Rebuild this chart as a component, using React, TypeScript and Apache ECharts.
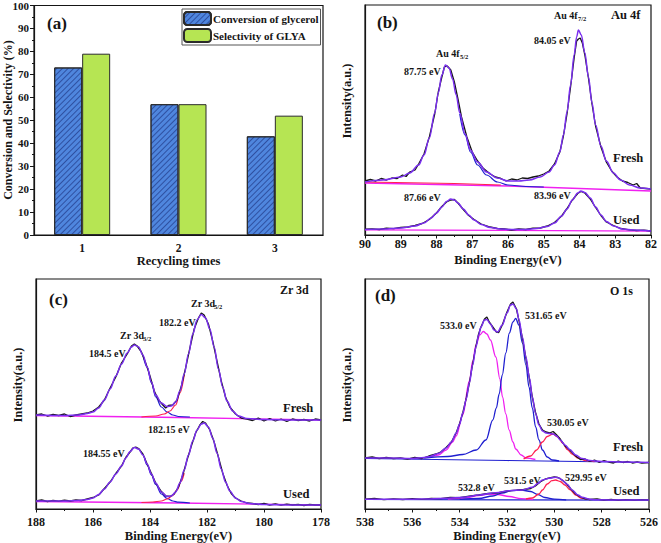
import React, { useEffect, useRef } from 'react';
import * as echarts from 'echarts';

// ---------- (a) recycling ----------
const recyclingTimes = ['1', '2', '3'];
const conversionGlycerol = [73, 57, 43];
const selectivityGLYA = [79, 57, 52];

// ---------- (b) Au 4f : [binding energy, intensity] ----------
const au4fFreshRaw = [
  [90, 54], [89.85, 55.5], [89.7, 54], [89.55, 56.5], [89.4, 55], [89.25, 57], [89.1, 56.5], [88.95, 60], [88.85, 58.5],
  [88.75, 63], [88.6, 65], [88.5, 71], [88.35, 81], [88.2, 98], [88.05, 121], [87.95, 143], [87.85, 158], [87.78, 168],
  [87.7, 169], [87.6, 165], [87.5, 153], [87.4, 136], [87.3, 118], [87.15, 98], [87.0, 83], [86.85, 74], [86.7, 67],
  [86.5, 61], [86.35, 58], [86.2, 56.5], [86.05, 54], [85.9, 56], [85.75, 55], [85.6, 57], [85.45, 56.5], [85.3, 58],
  [85.15, 59], [85.0, 61], [84.85, 64], [84.7, 71], [84.55, 83], [84.45, 99], [84.35, 121], [84.25, 148], [84.15, 177],
  [84.08, 194], [84.03, 196], [83.98, 197], [83.92, 192], [83.85, 180], [83.75, 157], [83.65, 131], [83.55, 109],
  [83.4, 88], [83.25, 73], [83.1, 64], [82.95, 58], [82.8, 54], [82.65, 52.5], [82.5, 50], [82.4, 51.5], [82.3, 47],
  [82.15, 46.5], [82.0, 46],
];
const au4fFreshFit = [
  [90, 53], [89.5, 55], [89.0, 58], [88.75, 62], [88.5, 70], [88.35, 80], [88.2, 97], [88.05, 122], [87.95, 142],
  [87.85, 160], [87.75, 170], [87.65, 167], [87.55, 156], [87.45, 140], [87.35, 122], [87.2, 101], [87.05, 85],
  [86.85, 73], [86.6, 63], [86.3, 57], [86.0, 54], [85.7, 54], [85.4, 55], [85.1, 58], [84.85, 63], [84.7, 70],
  [84.55, 83], [84.45, 100], [84.35, 123], [84.25, 150], [84.15, 180], [84.08, 198], [84.03, 205], [83.95, 200],
  [83.85, 182], [83.75, 158], [83.65, 132], [83.55, 110], [83.4, 89], [83.25, 74], [83.05, 62], [82.85, 55],
  [82.6, 50], [82.3, 47], [82.0, 46],
];
const au4fFresh52Tail = [
  [87.35, 121], [87.2, 100], [87.05, 83], [86.85, 70], [86.6, 60], [86.3, 53], [86.0, 50], [85.5, 48.5], [85.0, 48],
];
const au4fFreshBgA = [[90, 52], [86, 49], [82, 44]];
const au4fFreshBgB = [[90, 53], [87.5, 51.5], [86.2, 50]];
const au4fUsedRaw = [
  [90, 5.8], [89.8, 6.2], [89.6, 5.5], [89.4, 6.8], [89.2, 6.3], [89.0, 7.5], [88.8, 8], [88.6, 9.5], [88.4, 11.5],
  [88.2, 15.5], [88.0, 22], [87.85, 28.5], [87.72, 33], [87.6, 35], [87.5, 35.5], [87.4, 32], [87.25, 25.5],
  [87.1, 19.5], [86.95, 15.5], [86.75, 11], [86.5, 8], [86.3, 6.5], [86.1, 6], [85.9, 5], [85.7, 6], [85.5, 5.5],
  [85.3, 6.8], [85.1, 7], [84.9, 9], [84.7, 12.5], [84.5, 19], [84.35, 26.5], [84.2, 35], [84.05, 41.5],
  [83.96, 43.5], [83.85, 42], [83.7, 36], [83.55, 27.5], [83.4, 19.5], [83.25, 13], [83.05, 9.5], [82.85, 6.5],
  [82.6, 5.2], [82.4, 4.5], [82.2, 4.8], [82.0, 4],
];
const au4fUsedFit = [
  [90, 5.5], [89.5, 6], [89.0, 7], [88.6, 9], [88.35, 12], [88.15, 17], [88.0, 22], [87.85, 28], [87.72, 33.5],
  [87.6, 36], [87.5, 35], [87.4, 32], [87.25, 26], [87.1, 20], [86.95, 15], [86.75, 10.5], [86.5, 7.5], [86.2, 6],
  [85.9, 5.5], [85.5, 5.5], [85.2, 6.5], [84.9, 8.5], [84.7, 12], [84.5, 19], [84.35, 26], [84.2, 35], [84.05, 42],
  [83.96, 44], [83.85, 42.5], [83.7, 37], [83.55, 28], [83.4, 20], [83.25, 13.5], [83.05, 9], [82.8, 6], [82.5, 5],
  [82.0, 4],
];
const au4fUsedBg = [[90, 5.2], [86, 4.6], [82, 3.8]];

// ---------- (c) Zr 3d ----------
const zr3dFreshRaw = [
  [188, 94], [187.8, 95], [187.6, 93], [187.4, 94.5], [187.2, 93.5], [187.0, 95], [186.8, 92.5], [186.6, 94],
  [186.4, 95], [186.2, 96], [186.0, 98], [185.8, 102], [185.6, 109], [185.4, 121], [185.2, 132], [185.0, 146],
  [184.8, 155], [184.65, 163], [184.55, 165], [184.45, 163], [184.3, 157], [184.15, 146], [184.0, 133], [183.85, 118],
  [183.7, 109], [183.55, 104], [183.45, 101], [183.35, 103.5], [183.2, 104], [183.05, 109], [182.9, 123],
  [182.75, 141], [182.6, 161], [182.45, 180], [182.3, 191], [182.2, 196], [182.1, 194], [181.95, 185], [181.8, 168],
  [181.65, 148], [181.5, 128], [181.35, 112], [181.2, 102], [181.0, 95], [180.8, 91], [180.6, 90], [180.4, 88.5],
  [180.2, 91], [180.0, 88], [179.8, 90.5], [179.6, 88], [179.4, 90], [179.2, 87.5], [179.0, 90], [178.8, 88.5],
  [178.6, 89.5], [178.4, 88], [178.2, 90], [178.0, 89],
];
const zr3dFreshFit = [
  [188, 94], [187, 93.5], [186.5, 94], [186.2, 95.5], [186, 97], [185.8, 101], [185.6, 109], [185.4, 120],
  [185.2, 133], [185.0, 145], [184.8, 156], [184.65, 162], [184.55, 164], [184.4, 162], [184.25, 154], [184.1, 142],
  [183.95, 127], [183.8, 114], [183.6, 106], [183.4, 102.5], [183.25, 103], [183.1, 107], [182.95, 118], [182.8, 135],
  [182.65, 155], [182.5, 175], [182.35, 189], [182.2, 194.5], [182.05, 191], [181.9, 180], [181.75, 162], [181.6, 140],
  [181.45, 122], [181.3, 108], [181.1, 98], [180.9, 93], [180.6, 90.5], [180, 89.5], [179, 89], [178, 89],
];
const zr3dFresh32Tail = [
  [184.25, 154], [184.1, 142], [183.95, 126], [183.8, 112], [183.6, 102], [183.4, 97], [183.2, 94], [183.0, 92.5], [182.6, 92],
];
const zr3dFresh52Tail = [
  [184.3, 92], [183.8, 93], [183.5, 95], [183.3, 98], [183.1, 104], [182.95, 116], [182.8, 134],
];
const zr3dFreshBg = [[188, 93.5], [183, 91.5], [178, 89]];
const zr3dUsedRaw = [
  [188, 8], [187.8, 9], [187.6, 7.5], [187.4, 8.5], [187.2, 7.8], [187.0, 8.8], [186.8, 8], [186.6, 9], [186.4, 8.5],
  [186.2, 10], [186.0, 11.5], [185.8, 14], [185.6, 20.5], [185.4, 27], [185.2, 35.5], [185.0, 43], [184.85, 51.5],
  [184.7, 57], [184.6, 61], [184.5, 62], [184.4, 60.5], [184.25, 55], [184.1, 45], [183.95, 35.5], [183.8, 26],
  [183.6, 17.5], [183.45, 13], [183.3, 12.5], [183.15, 15], [183.0, 22], [182.85, 34], [182.7, 49], [182.55, 63],
  [182.4, 76], [182.25, 84], [182.15, 87.5], [182.05, 86], [181.9, 79], [181.75, 67], [181.6, 52], [181.45, 36],
  [181.3, 24], [181.15, 15.5], [181.0, 11], [180.8, 8], [180.6, 6], [180.4, 5.5], [180.2, 4.5], [180.0, 5.5],
  [179.8, 4], [179.6, 5], [179.4, 3.8], [179.2, 4.8], [179.0, 4], [178.8, 4.5], [178.6, 3.5], [178.4, 4.5],
  [178.2, 4], [178.0, 4],
];
const zr3dUsedFit = [
  [188, 8], [187, 8], [186.5, 8.5], [186.2, 9.5], [186, 11], [185.8, 14.5], [185.6, 20], [185.4, 27], [185.2, 35],
  [185.0, 43], [184.85, 51], [184.7, 57.5], [184.55, 61.5], [184.4, 60], [184.25, 54], [184.1, 45], [183.95, 35],
  [183.8, 26], [183.6, 17], [183.4, 12.5], [183.25, 13], [183.1, 17], [182.95, 26], [182.8, 39], [182.65, 54],
  [182.5, 68], [182.35, 79], [182.2, 85], [182.1, 86], [181.95, 82], [181.8, 71], [181.65, 56], [181.5, 40],
  [181.35, 27], [181.2, 18], [181.0, 11], [180.8, 7.5], [180.5, 5.5], [180, 4.5], [179, 4], [178, 4],
];
const zr3dUsed32Tail = [
  [184.2, 52], [184.1, 44], [183.95, 34], [183.8, 24.5], [183.6, 15], [183.4, 10.5], [183.2, 8], [183.0, 6.8], [182.6, 6],
];
const zr3dUsed52Tail = [
  [184.3, 6.5], [183.9, 7], [183.6, 8], [183.4, 10], [183.2, 13.5], [183.05, 19], [182.9, 28], [182.8, 36],
];
const zr3dUsedBg = [[188, 7.5], [183, 6], [178, 4]];

// ---------- (d) O 1s ----------
const o1sFreshRaw = [
  [538, 51], [537.7, 52], [537.4, 50.5], [537.1, 51.5], [536.8, 50.5], [536.5, 51], [536.2, 49.8], [535.9, 51.5],
  [535.6, 50.5], [535.3, 53], [535.0, 55], [534.8, 57], [534.57, 61.5], [534.35, 67], [534.15, 76], [534.0, 85.5],
  [533.87, 96], [533.72, 111], [533.59, 126], [533.45, 145], [533.31, 163], [533.2, 175], [533.1, 182],
  [532.95, 190], [532.85, 192], [532.75, 187], [532.6, 182], [532.45, 177], [532.35, 176.5], [532.2, 184],
  [532.0, 197], [531.85, 205], [531.75, 207], [531.6, 200], [531.49, 188], [531.35, 171], [531.2, 151],
  [531.05, 130], [530.93, 112], [530.8, 97], [530.65, 85], [530.5, 79], [530.35, 77], [530.2, 76], [530.05, 77.5],
  [529.9, 74], [529.75, 70], [529.55, 63], [529.35, 59], [529.1, 53], [528.9, 49.5], [528.7, 50], [528.5, 47.5],
  [528.3, 49], [528.1, 46.5], [527.9, 48.5], [527.7, 47], [527.5, 46], [527.3, 48], [527.1, 46.5], [526.9, 47.5],
  [526.7, 46], [526.5, 47], [526.3, 46], [526, 46.5],
];
const o1sFreshFit = [
  [538, 51], [537, 51], [536, 50.5], [535.5, 51.5], [535.27, 52.5], [534.9, 55.5], [534.57, 61], [534.35, 67],
  [534.15, 76], [534.0, 85], [533.87, 96], [533.72, 110], [533.59, 126], [533.45, 144], [533.31, 162], [533.2, 174],
  [533.1, 182], [532.95, 189], [532.85, 189.5], [532.7, 185], [532.55, 179], [532.4, 177], [532.2, 184], [532.0, 196],
  [531.85, 204], [531.75, 205], [531.6, 200], [531.49, 189], [531.35, 172], [531.2, 152], [531.05, 131],
  [530.93, 112], [530.8, 96], [530.65, 84], [530.5, 78], [530.35, 76], [530.2, 75.5], [530.05, 75], [529.9, 73],
  [529.75, 69], [529.55, 64], [529.35, 59.5], [529.1, 54], [528.83, 50.5], [528.5, 48.5], [528.0, 47.5], [527, 47],
  [526, 46.5],
];
const o1sFresh533 = [
  [535.3, 51.5], [534.9, 54], [534.57, 59], [534.3, 67], [534.15, 73], [533.87, 94], [533.59, 128], [533.45, 148],
  [533.31, 164], [533.15, 174], [533.0, 177.5], [532.85, 175], [532.7, 169], [532.47, 152], [532.3, 130],
  [532.19, 112], [532.05, 95], [531.91, 79], [531.75, 67], [531.63, 60], [531.4, 54], [531.2, 51], [530.8, 49.5],
];
const o1sFresh531 = [
  [535.5, 51], [534.5, 52.5], [533.87, 54.5], [533.3, 59], [532.89, 69], [532.6, 89], [532.45, 101], [532.33, 115],
  [532.2, 134], [532.05, 156], [531.9, 176], [531.75, 187], [531.63, 190.5], [531.5, 184], [531.35, 166],
  [531.2, 144], [531.07, 122], [530.93, 101], [530.79, 82], [530.65, 69], [530.5, 59], [530.3, 52], [530.09, 49],
  [529.8, 48],
];
const o1sFresh530 = [
  [531.3, 50], [531.0, 53], [530.75, 59], [530.5, 67], [530.3, 72.5], [530.06, 75], [529.85, 72], [529.65, 66],
  [529.45, 59.5], [529.25, 55], [529.0, 51], [528.7, 48.5], [528.3, 47.5],
];
const o1sFreshBg = [[538, 50.5], [532, 48.5], [526, 46.5]];
const o1sUsedRaw = [
  [538, 9.8], [537.6, 10.5], [537.2, 9.3], [536.8, 10.2], [536.4, 9.5], [536.0, 10.3], [535.6, 9.6], [535.2, 10.5],
  [534.8, 10.3], [534.4, 11.5], [534.0, 11.3], [533.6, 12.8], [533.2, 14], [532.8, 15.5], [532.4, 16], [532.0, 18],
  [531.6, 18.8], [531.3, 19.5], [531.0, 20.5], [530.8, 23], [530.6, 27], [530.4, 29.8], [530.2, 31], [530.0, 32],
  [529.85, 31.5], [529.7, 29.5], [529.5, 25.5], [529.3, 20], [529.1, 15], [528.9, 12], [528.7, 10.2], [528.5, 9.5],
  [528.2, 10], [527.9, 8.8], [527.6, 9.6], [527.3, 8.7], [527, 9.4], [526.6, 8.8], [526.3, 9.3], [526, 9],
];
const o1sUsedFit = [
  [538, 9.8], [536, 9.8], [535.27, 10], [534.5, 10.8], [533.87, 11.7], [533.17, 14], [532.47, 16.3], [531.91, 18.3],
  [531.35, 19], [530.93, 21.7], [530.7, 25.5], [530.5, 29], [530.23, 30.7], [529.95, 31.7], [529.8, 31],
  [529.67, 29], [529.45, 24.5], [529.25, 19], [529.0, 14], [528.83, 11.7], [528.5, 9.8], [528.27, 9.2], [527, 9],
  [526, 9],
];
const o1sUsed530 = [
  [531.2, 10], [530.93, 11], [530.65, 15], [530.5, 19], [530.3, 25], [530.1, 28.3], [529.95, 29], [529.75, 27.5],
  [529.55, 24], [529.35, 19.5], [529.1, 14], [528.85, 10.7], [528.5, 9.3],
];
const o1sUsed531 = [
  [534, 9.7], [533.2, 10.5], [532.6, 13], [532.2, 16], [531.8, 18.3], [531.4, 19], [531.0, 17.5], [530.7, 14.5],
  [530.4, 11.5], [530.0, 9.8], [529.5, 9.2],
];
const o1sUsed533 = [
  [534.5, 9.9], [533.8, 11], [533.2, 13.5], [532.8, 15], [532.4, 14.5], [531.9, 12.5], [531.4, 10.3], [530.9, 9.4],
];
const o1sUsedBg = [[538, 9.5], [532, 9.2], [526, 8.8]];

const FONT = "'Liberation Serif', 'Times New Roman', serif";
const INK = '#151515';
const FIT = '#7a2ff0';
const BLUE = '#1f1fd0';
const MAGENTA = '#f020f0';
const RED = '#ff2050';

function lineSeries(data: number[][], idx: number, color: string, width: number, z: number, smooth: boolean) {
  return {
    type: 'line',
    xAxisIndex: idx,
    yAxisIndex: idx,
    data,
    showSymbol: false,
    symbol: 'none',
    smooth: smooth ? 0.35 : false,
    smoothMonotone: 'x',
    lineStyle: { color, width },
    z,
    silent: true,
  };
}

function xpsXAxis(idx: number, min: number, max: number, interval: number, margin: number, nameGap: number) {
  return {
    type: 'value',
    gridIndex: idx,
    min,
    max,
    interval,
    inverse: true,
    name: 'Binding Energy(eV)',
    nameLocation: 'middle',
    nameGap,
    nameTextStyle: { fontFamily: FONT, fontWeight: 'bold', fontSize: 12.5, color: INK },
    axisLine: { show: true, lineStyle: { color: INK, width: 1.2 } },
    axisTick: { show: true, length: 3.5, lineStyle: { color: INK, width: 1 } },
    minorTick: { show: true, splitNumber: 2, length: 2, lineStyle: { color: INK } },
    axisLabel: { fontFamily: FONT, fontWeight: 'bold', fontSize: 12, color: INK, margin },
    splitLine: { show: false },
  };
}

function xpsYAxis(idx: number) {
  return {
    type: 'value',
    gridIndex: idx,
    min: 0,
    max: 230,
    axisLine: { show: true, lineStyle: { color: INK, width: 1.2 } },
    axisTick: { show: false },
    axisLabel: { show: false },
    splitLine: { show: false },
  };
}

function txt(x: number, y: number, text: string, size: number, align = 'left') {
  return {
    type: 'text',
    x,
    y,
    silent: true,
    style: {
      text,
      fontFamily: FONT,
      fontWeight: 'bold',
      fontSize: size,
      fill: INK,
      align,
      verticalAlign: 'middle',
    },
  };
}

function vtxt(x: number, y: number, text: string, size: number) {
  return {
    type: 'text',
    x,
    y,
    rotation: Math.PI / 2,
    silent: true,
    style: {
      text,
      fontFamily: FONT,
      fontWeight: 'bold',
      fontSize: size,
      fill: INK,
      align: 'center',
      verticalAlign: 'middle',
    },
  };
}

export default function App() {
  const ref = useRef<HTMLDivElement>(null);

  useEffect(() => {
    if (!ref.current) return;
    const chart = echarts.init(ref.current, undefined, { renderer: 'svg' });

    const gridStyle = { show: true, borderColor: INK, borderWidth: 1.2, backgroundColor: 'transparent' };

    const option = {
      animation: false,
      backgroundColor: '#ffffff',
      textStyle: { fontFamily: FONT },
      grid: [
        { left: 34, top: 5, width: 289, height: 230, ...gridStyle },
        { left: 365, top: 5, width: 286, height: 230, ...gridStyle },
        { left: 36, top: 279, width: 285, height: 230, ...gridStyle },
        { left: 365, top: 279, width: 286, height: 230, ...gridStyle },
      ],
      legend: {
        data: ['Conversion of glycerol', 'Selectivity of GLYA'],
        orient: 'vertical',
        left: 182,
        top: 9,
        itemWidth: 27,
        itemHeight: 13,
        itemGap: 2,
        padding: [2, 2, 2, 1],
        borderColor: '#555',
        borderWidth: 1,
        backgroundColor: '#fff',
        selectedMode: false,
        textStyle: { fontFamily: FONT, fontWeight: 'bold', fontSize: 11, color: INK, padding: [0, 0, 0, -3] },
      },
      xAxis: [
        {
          type: 'category',
          gridIndex: 0,
          data: recyclingTimes,
          name: 'Recycling times',
          nameLocation: 'middle',
          nameGap: 18,
          nameTextStyle: { fontFamily: FONT, fontWeight: 'bold', fontSize: 12.5, color: INK },
          axisLine: { lineStyle: { color: INK, width: 1.2 } },
          axisTick: { alignWithLabel: true, length: 4, lineStyle: { color: INK } },
          axisLabel: { fontFamily: FONT, fontWeight: 'bold', fontSize: 11.5, color: INK, margin: 7 },
        },
        xpsXAxis(1, 82, 90, 1, 3, 18),
        xpsXAxis(2, 178, 188, 2, 7, 20),
        xpsXAxis(3, 526, 538, 2, 7, 20),
      ],
      yAxis: [
        {
          type: 'value',
          gridIndex: 0,
          min: 0,
          max: 100,
          interval: 10,
          axisLine: { show: true, lineStyle: { color: INK, width: 1.2 } },
          axisTick: { show: true, length: 4, lineStyle: { color: INK } },
          minorTick: { show: true, splitNumber: 2, length: 2, lineStyle: { color: INK } },
          axisLabel: { fontFamily: FONT, fontWeight: 'bold', fontSize: 11, color: INK, margin: 5 },
          splitLine: { show: false },
        },
        xpsYAxis(1),
        xpsYAxis(2),
        xpsYAxis(3),
      ],
      series: [
        {
          type: 'bar',
          name: 'Conversion of glycerol',
          xAxisIndex: 0,
          yAxisIndex: 0,
          data: conversionGlycerol,
          barWidth: 28,
          barGap: '0%',
          itemStyle: {
            color: '#4f86de',
            borderColor: '#2b2b2b',
            borderWidth: 1,
            decal: {
              symbol: 'rect',
              symbolSize: 1,
              color: 'rgba(20, 36, 110, 0.55)',
              dashArrayX: [1, 0],
              dashArrayY: [1, 2.4],
              rotation: -Math.PI / 4,
            },
          },
        },
        {
          type: 'bar',
          name: 'Selectivity of GLYA',
          xAxisIndex: 0,
          yAxisIndex: 0,
          data: selectivityGLYA,
          barWidth: 28,
          barGap: '0%',
          itemStyle: { color: '#b6e553', borderColor: '#2b2b2b', borderWidth: 1 },
        },

        // (b) Au 4f
        lineSeries(au4fFreshBgA, 1, MAGENTA, 1.3, 2, false),
        lineSeries(au4fFreshBgB, 1, RED, 1.1, 2, false),
        lineSeries(au4fFresh52Tail, 1, BLUE, 1.2, 3, true),
        lineSeries(au4fFreshRaw, 1, INK, 1.3, 4, false),
        lineSeries(au4fFreshFit, 1, FIT, 1.5, 5, true),
        lineSeries(au4fUsedBg, 1, MAGENTA, 1.3, 2, false),
        lineSeries(au4fUsedRaw, 1, INK, 1.3, 4, false),
        lineSeries(au4fUsedFit, 1, FIT, 1.5, 5, true),

        // (c) Zr 3d
        lineSeries(zr3dFreshBg, 2, MAGENTA, 1.3, 2, false),
        lineSeries(zr3dFresh32Tail, 2, BLUE, 1.2, 3, true),
        lineSeries(zr3dFresh52Tail, 2, RED, 1.2, 3, true),
        lineSeries(zr3dFreshRaw, 2, INK, 1.3, 4, false),
        lineSeries(zr3dFreshFit, 2, FIT, 1.5, 5, true),
        lineSeries(zr3dUsedBg, 2, MAGENTA, 1.3, 2, false),
        lineSeries(zr3dUsed32Tail, 2, BLUE, 1.2, 3, true),
        lineSeries(zr3dUsed52Tail, 2, RED, 1.2, 3, true),
        lineSeries(zr3dUsedRaw, 2, INK, 1.3, 4, false),
        lineSeries(zr3dUsedFit, 2, FIT, 1.5, 5, true),

        // (d) O 1s
        lineSeries(o1sFreshBg, 3, BLUE, 1.2, 2, false),
        lineSeries(o1sFresh533, 3, MAGENTA, 1.3, 3, true),
        lineSeries(o1sFresh531, 3, BLUE, 1.3, 3, true),
        lineSeries(o1sFresh530, 3, RED, 1.3, 3, true),
        lineSeries(o1sFreshRaw, 3, INK, 1.3, 4, false),
        lineSeries(o1sFreshFit, 3, FIT, 1.5, 5, true),
        lineSeries(o1sUsedBg, 3, BLUE, 1.2, 2, false),
        lineSeries(o1sUsed533, 3, MAGENTA, 1.3, 3, true),
        lineSeries(o1sUsed531, 3, BLUE, 1.3, 3, true),
        lineSeries(o1sUsed530, 3, RED, 1.3, 3, true),
        lineSeries(o1sUsedRaw, 3, INK, 1.3, 4, false),
        lineSeries(o1sUsedFit, 3, FIT, 1.5, 5, true),
      ],
      graphic: [
        // (a)
        txt(47, 23, '(a)', 17),
        vtxt(8, 120, 'Conversion and Selectivity (%)', 12),
        // (b)
        txt(377, 22, '(b)', 17),
        txt(611, 15, 'Au 4f', 12.5),
        txt(554, 15, 'Au 4f', 10),
        txt(578, 18, '7/2', 6.5),
        txt(534, 40, '84.05 eV', 10),
        txt(436, 53, 'Au 4f', 10),
        txt(460, 56, '5/2', 6.5),
        txt(404, 71, '87.75 eV', 10),
        txt(613, 158, 'Fresh', 12.5),
        txt(404, 197, '87.66 eV', 10),
        txt(534, 195, '83.96 eV', 10),
        txt(613, 220, 'Used', 12.5),
        vtxt(347, 101, 'Intensity(a.u.)', 12.5),
        // (c)
        txt(49, 299, '(c)', 17),
        txt(280, 290, 'Zr 3d', 12),
        txt(191, 303, 'Zr 3d', 10),
        txt(214, 306, '5/2', 6.5),
        txt(159, 322, '182.2 eV', 10),
        txt(120, 335, 'Zr 3d', 10),
        txt(143, 338, '3/2', 6.5),
        txt(89, 353, '184.5 eV', 10),
        txt(283, 408, 'Fresh', 12.5),
        txt(148, 429, '182.15 eV', 10),
        txt(83, 453, '184.55 eV', 10),
        txt(283, 494, 'Used', 12.5),
        vtxt(18, 385, 'Intensity(a.u.)', 12.5),
        // (d)
        txt(375, 295, '(d)', 17),
        txt(610, 291, 'O 1s', 12),
        txt(440, 325, '533.0 eV', 10),
        txt(525, 315, '531.65 eV', 10),
        txt(547, 422, '530.05 eV', 10),
        txt(613, 447, 'Fresh', 12.5),
        txt(458, 487, '532.8 eV', 10),
        txt(504, 480, '531.5 eV', 10),
        txt(565, 477, '529.95 eV', 10),
        txt(613, 491, 'Used', 12.5),
        vtxt(347, 385, 'Intensity(a.u.)', 12.5),
      ],
    };

    chart.setOption(option as any);
    return () => {
      chart.dispose();
    };
  }, []);

  return (
    <div
      ref={ref}
      style={{ position: 'absolute', left: 0, top: 0, width: 661, height: 543, background: '#fff' }}
    />
  );
}
